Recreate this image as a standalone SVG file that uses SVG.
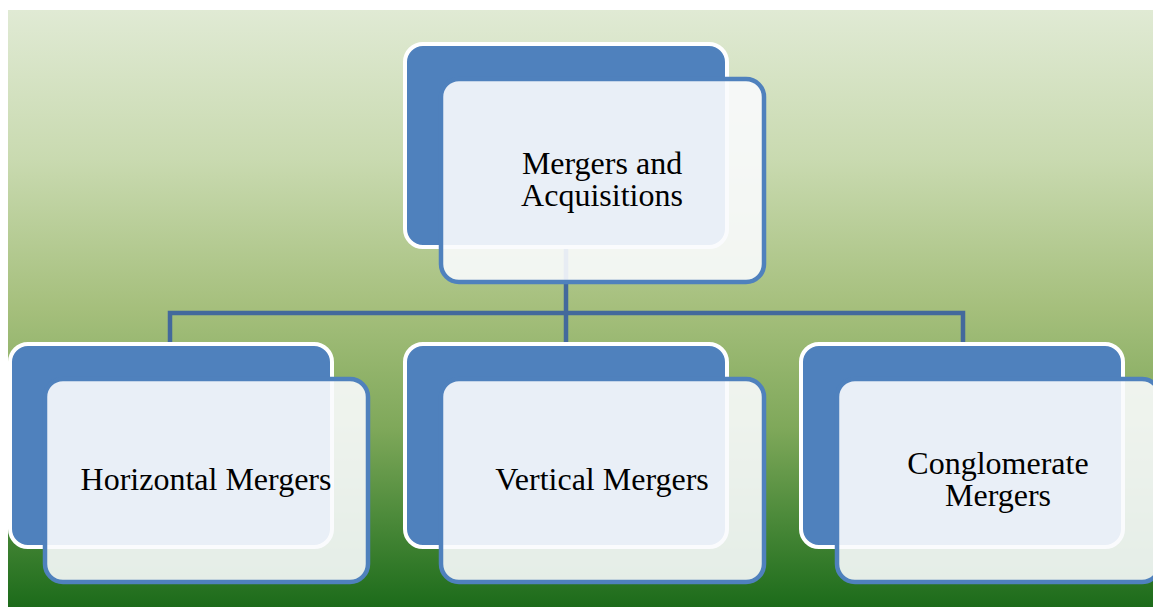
<svg xmlns="http://www.w3.org/2000/svg" width="1153" height="607" viewBox="0 0 1153 607">
  <defs>
    <linearGradient id="bg" x1="0" y1="0" x2="0" y2="1">
      <stop offset="0" stop-color="#e0ead4"/>
      <stop offset="0.25" stop-color="#c9dab0"/>
      <stop offset="0.5" stop-color="#a5bf7c"/>
      <stop offset="0.7" stop-color="#7fa85a"/>
      <stop offset="0.85" stop-color="#4c8a3a"/>
      <stop offset="1" stop-color="#1c6b1a"/>
    </linearGradient>
    <style>
      .back { fill: #4f81bd; stroke: #ffffff; stroke-width: 4; }
      .front { fill: #fafbfd; fill-opacity: 0.9; stroke: #4f81bd; stroke-width: 4.5; }
      .label { font-family: "Liberation Serif", "Times New Roman", serif; font-size: 32px; fill: #000000; text-anchor: middle; }
      .conn { fill: none; stroke: #43699c; stroke-width: 4.5; }
    </style>
  </defs>

  <!-- backdrop -->
  <rect x="8" y="10" width="1145" height="597" fill="url(#bg)"/>

  <!-- connectors -->
  <g id="connectors">
    <path class="conn" d="M566,248 V343"/>
    <path class="conn" d="M170,343 V313 H963 V343"/>
  </g>

  <!-- root -->
  <g id="node-ma">
    <rect class="back" x="405" y="44" width="322" height="203" rx="18"/>
    <rect class="front" x="441" y="79" width="323" height="203" rx="18"/>
    <text class="label" x="602" y="174">Mergers and<tspan x="602" dy="32">Acquisitions</tspan></text>
  </g>

  <!-- children -->
  <g id="node-horizontal">
    <rect class="back" x="10" y="344" width="322" height="203" rx="18"/>
    <rect class="front" x="45" y="379" width="323" height="203" rx="18"/>
    <text class="label" x="206" y="490">Horizontal Mergers</text>
  </g>

  <g id="node-vertical">
    <rect class="back" x="405" y="344" width="322" height="203" rx="18"/>
    <rect class="front" x="441" y="379" width="323" height="203" rx="18"/>
    <text class="label" x="602" y="490">Vertical Mergers</text>
  </g>

  <g id="node-conglomerate">
    <rect class="back" x="801" y="344" width="322" height="203" rx="18"/>
    <rect class="front" x="837" y="379" width="323" height="203" rx="18"/>
    <text class="label" x="998" y="474">Conglomerate<tspan x="998" dy="32">Mergers</tspan></text>
  </g>
</svg>
